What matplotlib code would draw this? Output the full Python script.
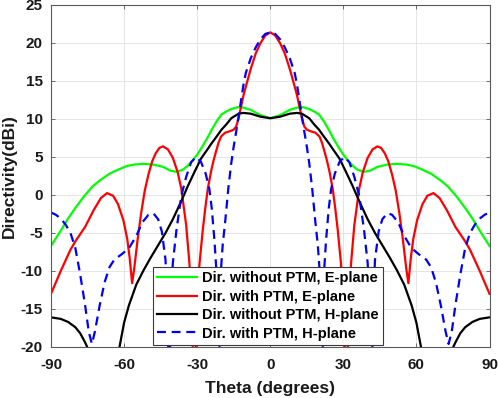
import matplotlib
matplotlib.use('Agg')
import matplotlib.pyplot as plt

# ---------------- data ----------------
x_ticks = [-90, -60, -30, 0, 30, 60, 90]
y_ticks = [-20, -15, -10, -5, 0, 5, 10, 15, 20, 25]

# Dir. without PTM, E-plane (green)
theta_e0 = [-90, -88, -86, -83, -80, -76.5, -73, -70, -66, -62,
            -59, -56, -52, -48, -44, -41, -38.5, -36, -34, -32,
            -30, -28, -26, -24, -22, -20, -18, -16, -13.5, -11,
            -8, -4, 0,
            4, 8, 11, 13.5, 16, 18, 20, 22, 24, 26,
            28, 30, 32, 34, 36, 38.5, 41, 44, 48, 52,
            56, 59, 62, 66, 70, 73, 76.5, 80, 83, 86,
            88, 90]
dir_e0 = [-6.7, -5.7, -4.7, -3.1, -1.7, -0.2, 1.1, 1.9, 2.8, 3.4,
          3.8, 4.0, 4.1, 4.0, 3.7, 3.2, 3.05, 3.3, 3.8, 4.5,
          5.3, 6.3, 7.4, 8.6, 9.7, 10.6, 11.0, 11.3, 11.55, 11.5,
          11.2, 10.5, 10.1,
          10.5, 11.2, 11.5, 11.55, 11.3, 11.0, 10.6, 9.7, 8.6, 7.4,
          6.3, 5.3, 4.5, 3.8, 3.3, 3.05, 3.2, 3.7, 4.0, 4.1,
          4.0, 3.8, 3.4, 2.8, 1.9, 1.1, -0.2, -1.7, -3.1, -4.7,
          -5.7, -6.7]

# Dir. with PTM, E-plane (red)
theta_e1 = [-90, -88, -86, -84, -82, -80, -76, -72.5, -69.5, -67,
            -64.5, -62.5, -60.3, -58.7, -57.7, -56.7, -55.8, -54.5, -53, -51.5,
            -50, -48.5, -47, -45.5, -44, -42, -40, -38, -36.5, -34.5,
            -33.2, -32.2, -31.2, -30.2, -29, -27.7, -26.7, -25.6, -24.3, -23.3,
            -22.2, -21.2, -20.2, -18.5, -16.5, -15, -14, -13, -12, -11,
            -10, -8, -6, -4, -2, 0,
            2, 4, 6, 8, 10,
            11, 12, 13, 14, 15, 16.5, 18.5, 20.2, 21.2, 22.2,
            23.3, 24.3, 25.6, 26.7, 27.7, 29, 30.2, 31.2, 32.2, 33.2,
            34.5, 36.5, 38, 40, 42, 44, 45.5, 47, 48.5, 50,
            51.5, 53, 54.5, 55.8, 56.7, 57.7, 58.7, 60.3, 62.5, 64.5,
            67, 69.5, 72.5, 76, 80, 82, 84, 86, 88, 90]
dir_e1 = [-13, -11.5, -10.0, -8.6, -7.2, -6.1, -4.2, -2.0, -0.4, 0.25,
          -0.1, -1.2, -3.3, -5.8, -8.3, -11.6, -9.6, -6.0, -2.4, 0.6,
          2.7, 4.4, 5.5, 6.2, 6.4, 6.0, 4.9, 3.0, 0.8, -4.0,
          -8.9, -14, -30, -14, -8.9, -4.6, -1.8, 0.9, 3.1, 4.5,
          5.8, 6.9, 7.7, 8.2, 8.4, 8.6, 9.0, 10.1, 11.6, 13.1,
          14.3, 16.6, 18.6, 20.0, 21.0, 21.4,
          21.0, 20.0, 18.6, 16.6, 14.3,
          13.1, 11.6, 10.1, 9.0, 8.6, 8.4, 8.2, 7.7, 6.9, 5.8,
          4.5, 3.1, 0.9, -1.8, -4.6, -8.9, -14, -30, -14, -8.9,
          -4.0, 0.8, 3.0, 4.9, 6.0, 6.4, 6.2, 5.5, 4.4, 2.7,
          0.6, -2.4, -6.0, -9.6, -11.6, -8.3, -5.8, -3.3, -1.2, -0.1,
          0.25, -0.4, -2.0, -4.2, -6.1, -7.2, -8.6, -10.0, -11.5, -13]

# Dir. without PTM, H-plane (black)
theta_h0 = [-90, -86, -83, -80, -78, -76, -74, -72, -68, -64,
            -62, -60, -58, -55, -52, -49, -46, -43, -40, -36.5,
            -33.8, -31, -28.4, -26, -24.3, -22, -20, -18, -16, -13,
            -11, -8, -4, 0,
            4, 8, 11, 13, 16, 18, 20, 22, 24.3, 26,
            28.4, 31, 33.8, 36.5, 40, 43, 46, 49, 52, 55,
            58, 60, 62, 64, 68, 72, 74, 76, 78, 80,
            83, 86, 90]
dir_h0 = [-16.1, -16.3, -16.7, -17.4, -18.2, -19.4, -20.8, -23, -26, -23,
          -20.2, -16.8, -14.5, -11.8, -9.9, -8.2, -6.6, -5.0, -3.2, -0.8,
          1.2, 3.1, 4.8, 5.9, 6.7, 7.7, 8.6, 9.3, 10.1, 10.7,
          10.8, 10.7, 10.3, 10.1,
          10.3, 10.7, 10.8, 10.7, 10.1, 9.3, 8.6, 7.7, 6.7, 5.9,
          4.8, 3.1, 1.2, -0.8, -3.2, -5.0, -6.6, -8.2, -9.9, -11.8,
          -14.5, -16.8, -20.2, -23, -26, -23, -20.8, -19.4, -18.2, -17.4,
          -16.7, -16.3, -16.1]

# Dir. with PTM, H-plane (blue dashed)
theta_h1 = [-90, -88, -86, -84, -82, -80, -78, -76, -74.5, -73.2,
            -72, -70, -68, -66, -64, -61, -58, -55, -52.5, -50,
            -48, -46, -44.5, -43, -42.1, -41.5, -40.9, -40, -38.5, -36.5,
            -34.5, -32.5, -30.5, -28.5, -26.5, -25, -24, -22.9, -21.9, -21.2,
            -20.5, -19.5, -18.5, -17.2, -16, -15, -14, -13, -12, -11,
            -10, -8, -6, -4, -2, 0,
            2, 4, 6, 8, 10,
            11, 12, 13, 14, 15, 16, 17.2, 18.5, 19.5, 20.5,
            21.2, 21.9, 22.9, 24, 25, 26.5, 28.5, 30.5, 32.5, 34.5,
            36.5, 38.5, 40, 40.9, 41.5, 42.1, 43, 44.5, 46, 48,
            50, 52.5, 55, 58, 61, 64, 66, 68, 70, 72,
            73.2, 74.5, 76, 78, 80, 82, 84, 86, 88, 90]
dir_h1 = [-2.3, -2.6, -3.1, -3.9, -5.0, -7.0, -10.5, -14.5, -18, -19.6,
          -18, -14.5, -11.5, -9.5, -8.5, -7.8, -7.0, -5.4, -3.6, -2.6,
          -2.4, -3.2, -4.8, -8.5, -15, -30, -15, -9.0, -4.6, -0.1,
          2.4, 4.3, 5.0, 4.4, 2.8, 0.8, -1.8, -6, -11, -30,
          -11, -6.5, -3.5, 0.9, 4.2, 6.4, 8.3, 10.3, 12.4, 14.5,
          16.1, 18.0, 19.4, 20.5, 21.2, 21.4,
          21.2, 20.5, 19.4, 18.0, 16.1,
          14.5, 12.4, 10.3, 8.3, 6.4, 4.2, 0.9, -3.5, -6.5, -11,
          -30, -11, -6, -1.8, 0.8, 2.8, 4.4, 5.0, 4.3, 2.4,
          -0.1, -4.6, -9.0, -15, -30, -15, -8.5, -4.8, -3.2, -2.4,
          -2.6, -3.6, -5.4, -7.0, -7.8, -8.5, -9.5, -11.5, -14.5, -18,
          -19.6, -18, -14.5, -10.5, -7.0, -5.0, -3.9, -3.1, -2.6, -2.3]

labels = ['Dir. without PTM, E-plane', 'Dir. with PTM, E-plane',
          'Dir. without PTM, H-plane', 'Dir. with PTM, H-plane']

# ---------------- style ----------------
plt.rcParams['font.family'] = ['Liberation Sans', 'DejaVu Sans']
plt.rcParams['font.weight'] = 'bold'
plt.rcParams['axes.unicode_minus'] = False

fig = plt.figure(figsize=(4.98, 3.98), dpi=100)
ax = fig.add_axes([51 / 498, 51 / 398, 438.5 / 498, 342 / 398])

lw = 1.6
ax.plot(theta_e0, dir_e0, color='#00ff00', lw=lw, label=labels[0])
ax.plot(theta_e1, dir_e1, color='#ff0000', lw=lw, label=labels[1])
ax.plot(theta_h0, dir_h0, color='#000000', lw=lw, label=labels[2])
ax.plot(theta_h1, dir_h1, color='#0000ff', lw=lw, ls=(0, (4, 2.6)), label=labels[3])

ax.set_xlim(-90, 90)
ax.set_ylim(-20, 25)
ax.set_xticks(x_ticks)
ax.set_yticks(y_ticks)
ax.set_xticklabels([str(t) for t in x_ticks])
ax.set_yticklabels([str(t) for t in y_ticks])

ax.grid(True, color='#e0e0e0', lw=0.6)
ax.set_axisbelow(True)
for s in ax.spines.values():
    s.set_color('#5a5a5a')
    s.set_linewidth(0.8)
ax.tick_params(direction='in', top=True, right=True, length=3, width=0.6,
               color='#5a5a5a', labelsize=11, labelcolor='#1a1a1a', pad=6)
ax.tick_params(axis='x', pad=8)

ax.set_xlabel('Theta (degrees)', fontsize=12.5, fontweight='bold', color='#1a1a1a')
ax.set_ylabel('Directivity(dBi)', fontsize=12.5, fontweight='bold', color='#1a1a1a')
ax.xaxis.set_label_coords(0.5, -0.1)
ax.yaxis.set_label_coords(-0.078, 0.5)

leg = ax.legend(loc='lower left', bbox_to_anchor=(0.232, 0.006), borderaxespad=0,
                prop={'size': 10.5, 'weight': 'bold'}, frameon=True, fancybox=False,
                edgecolor='#3a3a3a', framealpha=1, handlelength=2.75,
                handletextpad=0.3, labelspacing=0.3, borderpad=0.3)
leg.get_frame().set_linewidth(0.8)

fig.savefig('out.png', dpi=100)
